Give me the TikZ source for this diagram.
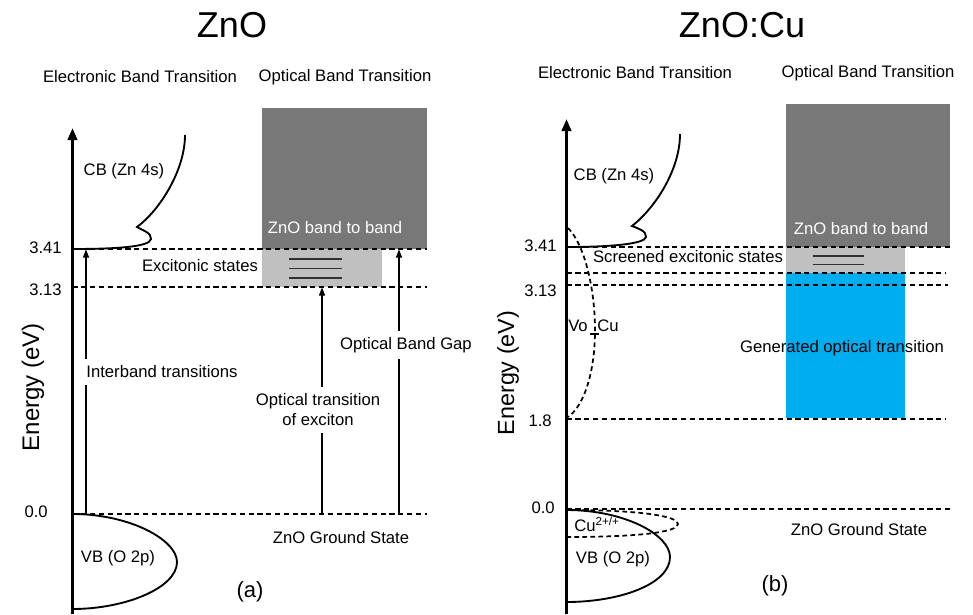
\documentclass[tikz,border=0pt]{standalone}
\usepackage{fontspec}
\setmainfont{Liberation Sans}
\usetikzlibrary{arrows.meta}
\definecolor{bandgray}{RGB}{120,120,120}
\definecolor{exgray}{RGB}{192,192,192}
\definecolor{genblue}{RGB}{0,174,239}
\definecolor{exline}{RGB}{50,50,50}
\begin{document}
\begin{tikzpicture}[x=0.75pt,y=-0.75pt,
  font=\fontsize{12.5}{15}\selectfont,
  lvl/.style={line width=1pt, dash pattern=on 4pt off 2.6pt},
  axisline/.style={line width=2.2pt, -{Triangle[length=9pt,width=7pt]}},
  trans/.style={line width=0.9pt, -{Triangle[length=6pt,width=4.5pt]}},
  band/.style={line width=1.4pt},
  dband/.style={line width=1.3pt, dash pattern=on 3.5pt off 2.5pt},
  exl/.style={line width=1pt, draw=exline},
  wlbl/.style={fill=white, inner xsep=2pt, inner ysep=5pt},
  title/.style={font=\fontsize{27}{32}\selectfont},
  ylbl/.style={font=\fontsize{18}{22}\selectfont, rotate=90},
  plbl/.style={font=\fontsize{16.5}{20}\selectfont}]
\useasboundingbox (0,0) rectangle (973,614);

% ---------------- left panel (a) ----------------
\node[title] (ta) at (232,25) {ZnO};
\node (ea) at (140,77) {Electronic Band Transition};
\node (oa) at (345,77) {Optical Band Transition};

\fill[bandgray] (262,108) rectangle (427,249);
\fill[exgray] (262,249) rectangle (382,287);
\draw[exl] (289,259) -- (342,259);
\draw[exl] (289,268.5) -- (342,268.5);
\draw[exl] (289,278) -- (342,278);

\draw[lvl] (72.5,249) -- (427,249);
\draw[lvl] (72.5,287) -- (427,287);
\draw[lvl] (72.5,514) -- (427,514);

\draw[axisline] (72.5,614) -- (72.5,128);

\node[anchor=east,inner sep=0pt] (a341) at (62,248) {3.41};
\node[anchor=east,inner sep=0pt] (a313) at (62,290) {3.13};
\node[anchor=east,inner sep=0pt] (a00) at (48,512) {0.0};
\node[ylbl] (ya) at (33,387) {Energy (eV)};

\draw[band] (72.5,249) .. controls (115,249) and (150,247) .. (151,239)
  .. controls (152,233) and (142,230) .. (137,227)
  .. controls (160,210) and (185,170) .. (185,135);
\draw[band] (72.5,514) .. controls (130,514) and (177,540) .. (177,562)
  .. controls (177,588) and (125,609) .. (72.5,609);

\node (cba) at (124,171) {CB (Zn 4s)};
\node (vba) at (118,558) {VB (O 2p)};
\node[text=white] (bba) at (335,228) {ZnO band to band};
\node (exa) at (200,266) {Excitonic states};

\coordinate (g1) at (86,514);   \coordinate (c1) at (86,249.5);
\coordinate (g2) at (322,514);  \coordinate (c2) at (322,287.5);
\coordinate (g3) at (399,514);  \coordinate (c3) at (399,249.5);
\draw[trans] (g1) -- (c1);
\draw[trans] (g2) -- (c2);
\draw[trans] (g3) -- (c3);
\node[wlbl,anchor=west] (ita) at (83.5,372) {Interband transitions};
\node[wlbl,align=center] (otea) at (318,410) {Optical transition\\of exciton};
\node[wlbl] (obga) at (406,345) {Optical Band Gap};

\node (gsa) at (341,538) {ZnO Ground State};
\node[plbl] (pa) at (250,592) {(a)};

% ---------------- right panel (b) ----------------
\node[title] (tb) at (742,25) {ZnO:Cu};
\node (eb) at (635,73) {Electronic Band Transition};
\node (ob) at (868,73) {Optical Band Transition};

\fill[bandgray] (786,104) rectangle (950,247);
\fill[exgray] (786,247) rectangle (905,273);
\fill[genblue] (786,273) rectangle (905,418);
\draw[exl] (813,256) -- (864,256);
\draw[exl] (813,264.5) -- (864,264.5);

\draw[lvl] (566.5,247) -- (952,247);
\draw[lvl] (566.5,273) -- (945,273);
\draw[lvl] (566.5,285) -- (948,285);
\draw[lvl] (566.5,419) -- (945,419);
\draw[lvl] (566.5,509) -- (950,509);

\draw[axisline] (566.5,614) -- (566.5,119);

\node[anchor=east,inner sep=0pt] (b341) at (557,246) {3.41};
\node[anchor=east,inner sep=0pt] (b313) at (557,291) {3.13};
\node[anchor=east,inner sep=0pt] (b18) at (552,421) {1.8};
\node[anchor=east,inner sep=0pt] (b00) at (555,508) {0.0};
\node[ylbl,font=\fontsize{17.5}{21}\selectfont] (yb) at (508,373) {Energy (eV)};

\draw[band] (566.5,247) .. controls (610,247) and (645,244) .. (646,237)
  .. controls (647,231) and (637,228) .. (632,226)
  .. controls (655,208) and (680,170) .. (680,134);
\draw[dband] (568,228) .. controls (585,245) and (595,290) .. (595,330)
  .. controls (595,370) and (585,405) .. (568,417);
\draw[line width=0.8pt] (590,334) -- (599,334);
\draw[dband] (566.5,510) .. controls (640,510) and (678,516) .. (678,524)
  .. controls (678,532) and (640,537) .. (566.5,537);
\draw[band] (566.5,510) .. controls (625,510) and (670,535) .. (670,557)
  .. controls (670,584) and (620,602) .. (566.5,602);

\node (cbb) at (614,176) {CB (Zn 4s)};
\node[text=white] (bbb) at (861,229) {ZnO band to band};
\node (seb) at (688,257) {Screened excitonic states};
\node[inner sep=0pt] (vob) at (578,326) {Vo};
\node[inner sep=0pt] (cub) at (608,326) {Cu};
\node[anchor=west,inner sep=0pt] (cu2b) at (574,524) {Cu\textsuperscript{2+/+}};
\node (vbb) at (613,559) {VB (O 2p)};
\node (gob) at (842,348) {Generated optical transition};
\node (gsb) at (859,530) {ZnO Ground State};
\node[plbl] (pb) at (775,586) {(b)};
\end{tikzpicture}
\end{document}
